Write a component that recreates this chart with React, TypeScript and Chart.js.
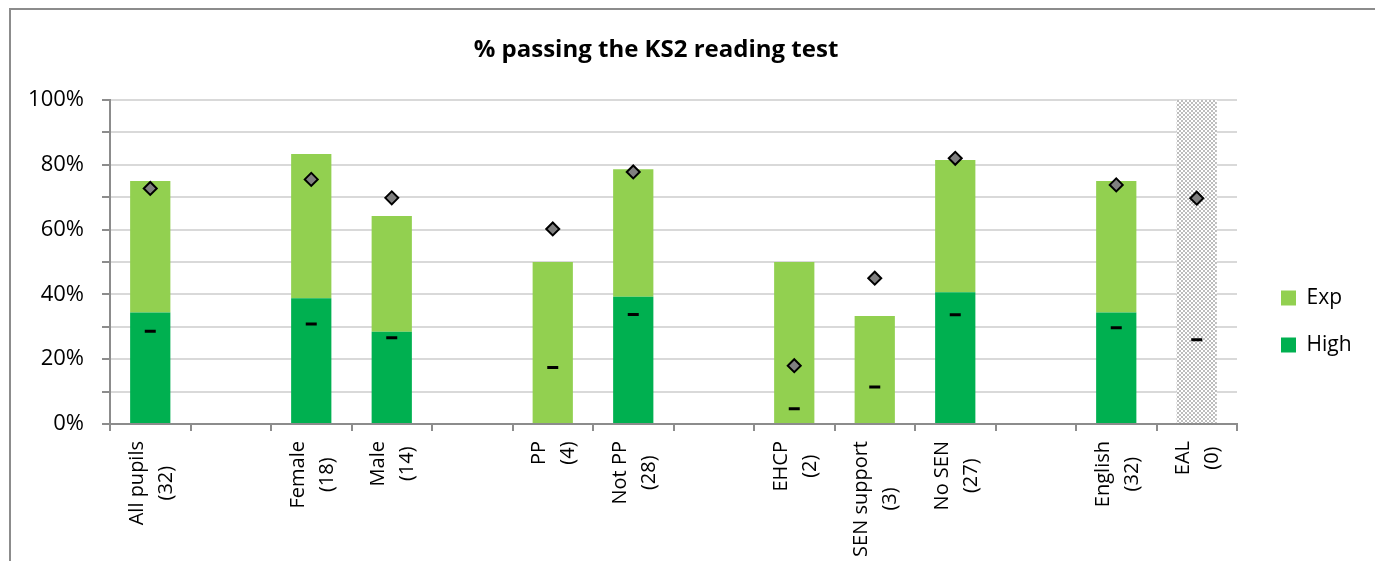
import React, { useEffect, useRef } from 'react';
import { Chart, registerables } from 'chart.js';

Chart.register(...registerables);

// ---- data ----
const categories = ['All pupils', '', 'Female', 'Male', '', 'PP', 'Not PP', '', 'EHCP', 'SEN support', 'No SEN', '', 'English', 'EAL'];
const counts = ['(32)', '', '(18)', '(14)', '', '(4)', '(28)', '', '(2)', '(3)', '(27)', '', '(32)', '(0)'];
const highValues = [34.4, null, 38.8, 28.5, null, null, 39.3, null, null, null, 40.7, null, 34.4, null];
const expValues = [40.6, null, 44.5, 35.7, null, 50, 39.3, null, 50, 33.3, 40.8, null, 40.6, null];
const diamondValues = [72.7, null, 75.5, 69.8, null, 60.2, 77.8, null, 18.0, 45.0, 82.0, null, 73.8, 69.7];
const dashValues = [28.6, null, 30.9, 26.6, null, 17.4, 33.8, null, 4.7, 11.4, 33.7, null, 29.7, 26.0];
const noDataBand = [null, null, null, null, null, null, null, null, null, null, null, null, null, 100];
const yLabelTicks = [0, 20, 40, 60, 80, 100];

const CANVAS_W = 1366;
const CANVAS_H = 623;

const xLabelPlugin = {
  id: 'xLabelPlugin',
  afterLayout(chart: any) {
    // let legend text extend past the legend box (it is clipped to its box otherwise)
    if (chart.legend) chart.legend.right = CANVAS_W;
  },
  afterDraw(chart: any) {
    const xs = chart.scales.x;
    const ctx = chart.ctx;
    ctx.save();
    ctx.font = '20px "Open Sans"';
    ctx.fillStyle = '#000';
    ctx.textAlign = 'center';
    ctx.textBaseline = 'middle';
    categories.forEach((c, i) => {
      const lines = [c, counts[i]].filter((s) => s);
      if (!lines.length) return;
      const maxW = Math.max(...lines.map((l) => ctx.measureText(l).width));
      const x = xs.getPixelForValue(i);
      const top = chart.chartArea.bottom + 17;
      ctx.save();
      ctx.translate(x, top + maxW / 2);
      ctx.rotate(-Math.PI / 2);
      lines.forEach((l, j) => ctx.fillText(l, 0, j === 0 ? -13 : 16));
      ctx.restore();
    });
    ctx.restore();
  },
};

export default function App() {
  const ref = useRef<HTMLCanvasElement | null>(null);

  useEffect(() => {
    const canvas = ref.current;
    if (!canvas) return;
    const pc = document.createElement('canvas');
    pc.width = 4;
    pc.height = 4;
    const pctx = pc.getContext('2d')!;
    pctx.fillStyle = '#ffffff';
    pctx.fillRect(0, 0, 4, 4);
    pctx.fillStyle = '#bdbdbd';
    pctx.fillRect(0, 0, 2, 2);
    pctx.fillRect(2, 2, 2, 2);
    const pattern = canvas.getContext('2d')!.createPattern(pc, 'repeat');

    const chart = new Chart(canvas, {
      type: 'bar',
      data: {
        labels: categories,
        datasets: [
          {
            type: 'bar',
            label: 'High',
            data: highValues,
            backgroundColor: '#00B050',
            borderWidth: 0,
            barPercentage: 0.5,
            categoryPercentage: 1,
            order: 1,
          },
          {
            type: 'bar',
            label: 'Exp',
            data: expValues,
            backgroundColor: '#92D050',
            borderWidth: 0,
            barPercentage: 0.5,
            categoryPercentage: 1,
            order: 1,
          },
          {
            type: 'bar',
            label: 'nodata',
            data: noDataBand,
            backgroundColor: pattern as any,
            borderWidth: 0,
            barPercentage: 0.5,
            categoryPercentage: 1,
            order: 1,
          },
          {
            type: 'line',
            label: 'diamond',
            data: diamondValues,
            stack: 'd1',
            showLine: false,
            pointStyle: 'rectRot',
            pointRadius: 6.5,
            pointHoverRadius: 6.5,
            pointBackgroundColor: '#808080',
            pointBorderColor: '#000',
            pointBorderWidth: 2,
            order: 0,
          } as any,
          {
            type: 'line',
            label: 'dash',
            data: dashValues,
            stack: 'd2',
            showLine: false,
            pointStyle: 'line',
            pointRadius: 5.5,
            pointHoverRadius: 5.5,
            pointBorderColor: '#000',
            pointBorderWidth: 3,
            order: 0,
          } as any,
        ],
      },
      options: {
        responsive: false,
        animation: false,
        events: [],
        layout: { padding: { left: 0, top: 0, bottom: 0, right: 76 } },
        scales: {
          x: {
            stacked: true,
            grid: {
              display: true,
              drawOnChartArea: false,
              drawTicks: true,
              tickLength: 7,
              offset: true,
              color: '#8c8c8c',
              lineWidth: 2,
            },
            border: { display: true, color: '#8c8c8c', width: 2 },
            ticks: { display: false },
            afterFit: (s: any) => {
              s.height = CANVAS_H - 414;
            },
          },
          y: {
            stacked: true,
            min: 0,
            max: 100,
            ticks: {
              stepSize: 10,
              padding: 18,
              color: '#000',
              font: { family: '"Open Sans"', size: 22 },
              callback: (v: any) => (yLabelTicks.includes(Number(v)) ? v + '%' : ''),
            },
            grid: {
              color: '#d9d9d9',
              lineWidth: 2,
              tickLength: 8,
              tickColor: '#8c8c8c',
              tickWidth: 2,
            },
            border: { display: true, color: '#8c8c8c', width: 2 },
            afterFit: (s: any) => {
              s.width = 99;
            },
          },
          yR: {
            type: 'linear',
            position: 'right',
            display: true,
            grid: { display: false },
            ticks: { display: false },
            border: { display: false },
            afterFit: (s: any) => {
              s.width = 18;
            },
          },
        },
        plugins: {
          title: {
            display: true,
            text: '% passing the KS2 reading test',
            color: '#000',
            font: { family: '"Open Sans"', size: 24, weight: 'bold', lineHeight: 1.2 },
            padding: { top: 25.6, bottom: 35.6 },
          },
          legend: {
            position: 'right',
            maxWidth: 46,
            labels: {
              boxWidth: 15,
              boxHeight: 15,
              padding: 26,
              color: '#000',
              font: { family: '"Open Sans"', size: 21 },
              filter: (item: any) => item.datasetIndex === 0 || item.datasetIndex === 1,
              sort: (a: any, b: any) => b.datasetIndex - a.datasetIndex,
            },
          },
          tooltip: { enabled: false },
        },
      } as any,
      plugins: [xLabelPlugin],
    });
    return () => chart.destroy();
  }, []);

  return (
    <div style={{ height: 553, overflow: 'hidden' }}>
      <div
        style={{
          marginLeft: 1,
          width: 1370,
          height: 640,
          border: '2px solid #8c8c8c',
          boxSizing: 'border-box',
        }}
      >
        <canvas ref={ref} width={CANVAS_W} height={CANVAS_H} style={{ display: 'block' }} />
      </div>
    </div>
  );
}
